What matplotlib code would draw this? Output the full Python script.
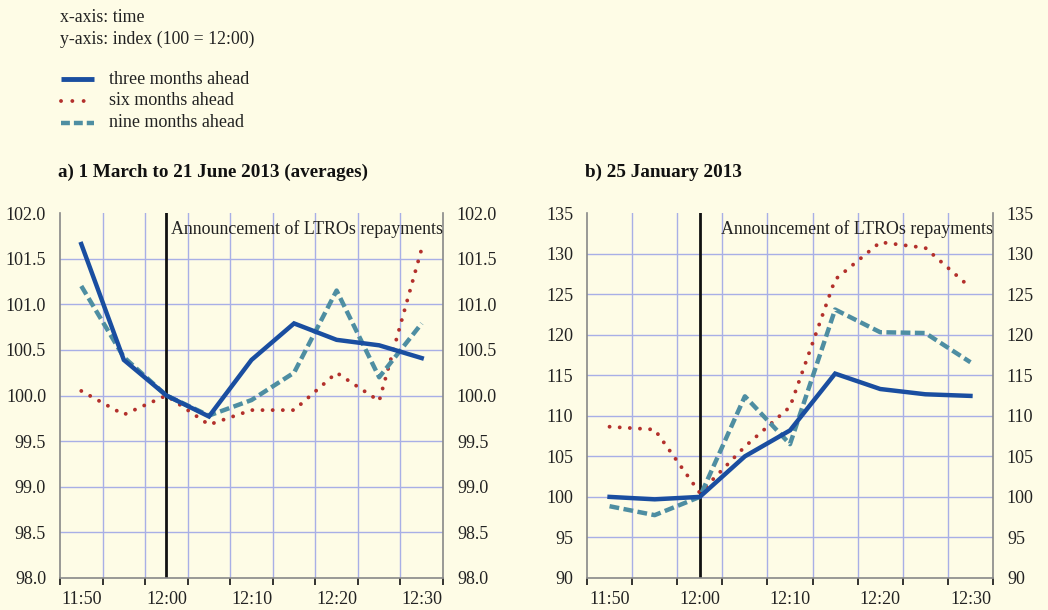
import matplotlib
matplotlib.use("Agg")
import matplotlib.pyplot as plt
from matplotlib.lines import Line2D

plt.rcParams['font.family'] = ['Liberation Serif', 'DejaVu Serif']

times = ["11:50", "11:55", "12:00", "12:05", "12:10", "12:15", "12:20", "12:25", "12:30"]

# panel a) 1 March to 21 June 2013 (averages)
a_three = [101.66, 100.39, 100.0, 99.77, 100.39, 100.79, 100.61, 100.55, 100.41]
a_six = [100.05, 99.79, 100.0, 99.68, 99.84, 99.84, 100.25, 99.94, 101.61]
a_nine = [101.20, 100.42, 100.0, 99.78, 99.95, 100.25, 101.15, 100.20, 100.79]

# panel b) 25 January 2013
b_three = [100.0, 99.7, 100.0, 105.0, 108.2, 115.2, 113.3, 112.65, 112.45]
b_six = [108.65, 108.3, 100.5, 106.2, 111.1, 126.8, 131.4, 130.7, 125.8]
b_nine = [98.85, 97.75, 100.0, 112.4, 106.5, 123.1, 120.3, 120.2, 116.6]

bg = '#fefce6'
c_three = '#1a4ea0'
c_six = '#b3302c'
c_nine = '#4e8ea2'
c_grid = '#a8afe6'

fig = plt.figure(figsize=(10.48, 6.10), dpi=100, facecolor=bg)

fig.text(60/1048, 1 - 17/610, "x-axis: time", fontsize=12.8, va='center', color='#222222')
fig.text(60/1048, 1 - 39/610, "y-axis: index (100 = 12:00)", fontsize=12.8, va='center', color='#222222')

leg = [("three months ahead", c_three, '-', 3.5),
       ("six months ahead", c_six, (0, (0.01, 2.9)), 2.8),
       ("nine months ahead", c_nine, (0, (2.0, 0.9)), 3.2)]
for i, (lab, col, ls, lw) in enumerate(leg):
    y = 1 - (79 + 22 * i) / 610
    fig.add_artist(Line2D([61/1048, 94/1048], [y, y], color=col, ls=ls, lw=lw,
                          solid_capstyle='butt', dash_capstyle='round' if i == 1 else 'butt'))
    fig.text(109/1048, y, lab, fontsize=13, va='center', color='#222222')


def panel(left, right, title, three, six, nine, ylo, yhi, step, fmt):
    ax = fig.add_axes([left/1048, 1 - 578/610, (right - left)/1048, (578 - 213)/610])
    ax.set_facecolor(bg)
    x = list(range(len(times)))
    ax.set_xlim(-0.5, len(times) - 0.5)
    ax.set_ylim(ylo, yhi)
    yt = [ylo + step * k for k in range(int(round((yhi - ylo) / step)) + 1)]
    for v in yt[1:-1]:
        ax.axhline(v, color=c_grid, lw=1, zorder=0)
    for k in range(len(times) - 1):
        ax.axvline(k + 0.5, color=c_grid, lw=1, zorder=0)
    ax.axvline(2, color='#111111', lw=2, zorder=1)
    ax.text(len(times) - 0.5, yhi - (yhi - ylo) * 0.045, "Announcement of LTROs repayments",
            ha='right', va='center', fontsize=12.9, color='#222222', zorder=3)
    ax.plot(x, three, color=c_three, lw=3.2, zorder=4, solid_joinstyle='miter')
    ax.plot(x, nine, color=c_nine, lw=3.2, ls=(0, (2.2, 1.0)), zorder=3)
    ax.plot(x, six, color=c_six, lw=2.8, ls=(0, (0.01, 2.6)), dash_capstyle='round', zorder=2)

    ax.set_yticks(yt)
    ax.set_yticklabels([fmt.format(v) for v in yt])
    ax.set_xticks([k - 0.5 for k in range(len(times) + 1)])
    ax.set_xticklabels([])
    ax.set_xticks(x[::2], minor=True)
    ax.set_xticklabels(times[::2], minor=True)
    ax.tick_params(axis='x', which='major', direction='out', length=5, width=1.2, color='#111111')
    ax.tick_params(axis='x', which='minor', length=0, pad=9, labelsize=13, colors='#222222')
    ax.tick_params(axis='y', length=0, labelsize=13, colors='#222222', pad=10,
                   left=True, right=True, labelleft=True, labelright=True)
    for s in ['left', 'right', 'bottom']:
        ax.spines[s].set_color('#888888')
        ax.spines[s].set_linewidth(1.2)
    ax.spines['top'].set_visible(False)
    fig.text((left - 2)/1048, 1 - 172/610, title, fontsize=13.8, fontweight='bold',
             va='center', color='#111111')
    return ax


panel(60, 443, "a) 1 March to 21 June 2013 (averages)", a_three, a_six, a_nine,
      98.0, 102.0, 0.5, "{:.1f}")
panel(587, 993, "b) 25 January 2013", b_three, b_six, b_nine, 90, 135, 5, "{:.0f}")

fig.savefig("out.png", dpi=100, facecolor=bg)
